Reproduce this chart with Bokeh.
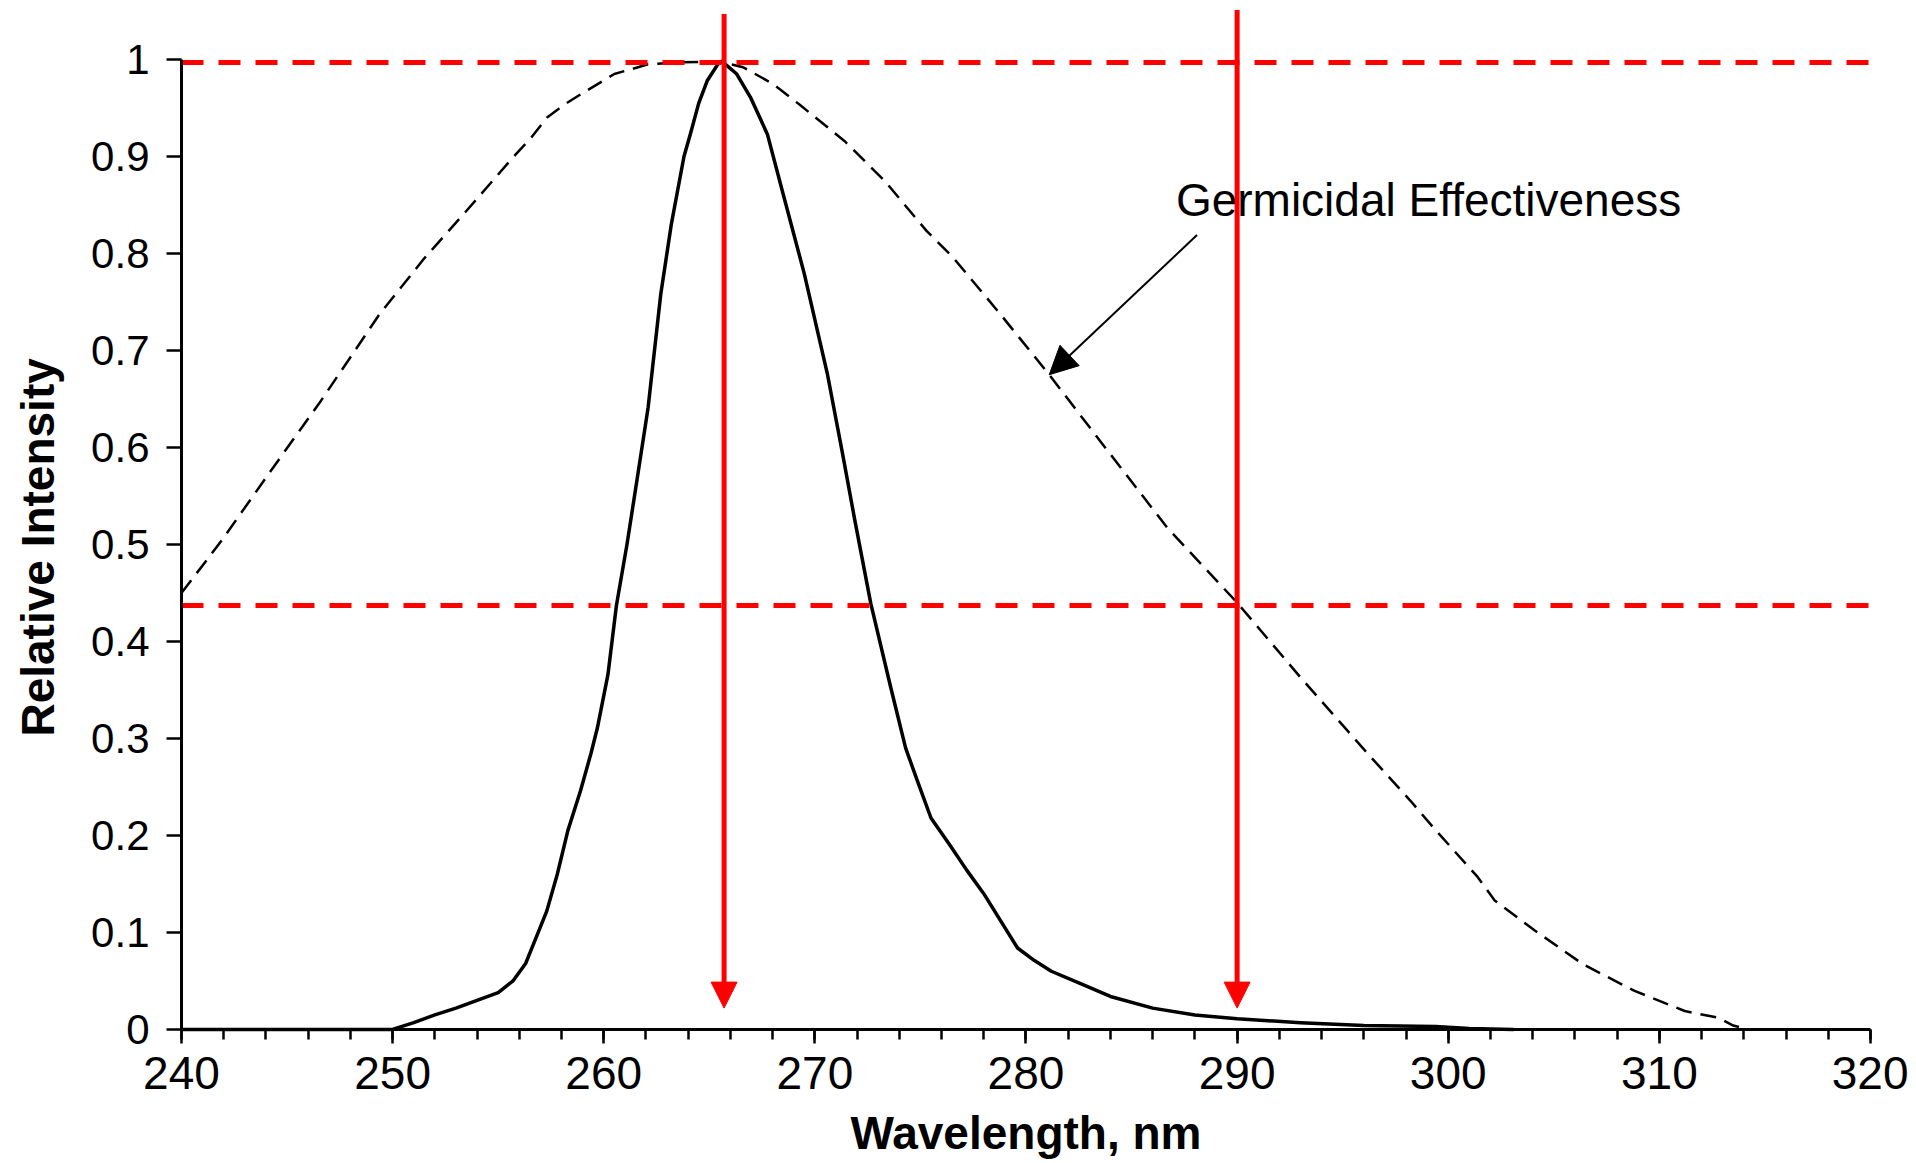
from bokeh.plotting import figure
from bokeh.models import (Range1d, SingleIntervalTicker, FixedTicker, NumeralTickFormatter,
                          Arrow, NormalHead, Label)
from bokeh.embed import file_html
from bokeh.resources import INLINE

# ---------------- data ----------------
# emission spectrum (solid line)
emission_nm = [240, 245, 250, 251, 252, 253, 254, 255, 255.7, 256.3, 256.8, 257.3, 257.8,
               258.3, 258.9, 259.4, 259.7, 260.2, 260.6, 261.1, 261.6, 262.1, 262.7, 263.2,
               263.8, 264.1, 264.5, 264.9, 265.4, 265.6, 266.3, 266.95, 267.75, 268.5, 269.5,
               270.6, 271.3, 271.9, 272.65, 273.6, 274.3, 274.86, 275.5, 276.4, 277.2, 278.0,
               279.6, 280.4, 281.2, 282.5, 284, 286, 288, 290, 293, 296, 299.4, 301, 303.1]
emission_rel = [0, 0, 0, 0.007, 0.015, 0.022, 0.030, 0.038, 0.050, 0.068, 0.095, 0.122, 0.16,
                0.205, 0.246, 0.285, 0.311, 0.366, 0.437, 0.50, 0.57, 0.641, 0.758, 0.83,
                0.90, 0.923, 0.955, 0.978, 0.995, 0.998, 0.985, 0.961, 0.923, 0.861, 0.779,
                0.675, 0.595, 0.524, 0.439, 0.352, 0.29, 0.256, 0.218, 0.19, 0.164, 0.14,
                0.084, 0.071, 0.060, 0.048, 0.034, 0.022, 0.015, 0.011, 0.007, 0.004, 0.003,
                0.001, 0]

# germicidal effectiveness (dashed line)
germ_nm = [240, 241.9, 244.2, 246.6, 249.4, 251.5, 253.5, 255.7, 256.55, 257.3, 258.1, 258.9,
           260.5, 262.1, 263.6, 265.5, 266.6, 268.0, 269.3, 271.4, 273.3, 275.3, 276.5, 278.0,
           278.8, 281.1, 283.5, 286.7, 290.0, 293.0, 296.2, 298.2, 299.3, 301.4, 302.2, 304.1,
           306.4, 308.8, 311.2, 312.8, 313.5, 314.2, 316.5]
germ_rel = [0.450, 0.504, 0.575, 0.648, 0.738, 0.795, 0.844, 0.899, 0.919, 0.940, 0.953, 0.964,
            0.985, 0.995, 0.997, 0.998, 0.992, 0.975, 0.953, 0.916, 0.875, 0.823, 0.797, 0.758,
            0.737, 0.675, 0.607, 0.517, 0.440, 0.363, 0.284, 0.236, 0.208, 0.157, 0.133, 0.102,
            0.067, 0.040, 0.019, 0.012, 0.004, 0, 0]

x_bounds = (240, 320)
y_bounds = (0, 1)
y_ticks = [0, 0.1, 0.2, 0.3, 0.4, 0.5, 0.6, 0.7, 0.8, 0.9, 1]

# red reference markers
ref_levels = [0.997, 0.437]
ref_wavelengths = [265.7, 290.0]
ref_arrow_top = [1.047, 1.051]
ref_arrow_tip = [0.022, 0.022]

# annotation
note_text = "Germicidal Effectiveness"
note_text_pos = (287.1, 0.855)
note_arrow_start = (288.1, 0.819)
note_arrow_end = (281.1, 0.675)

# axis titles (positioned in data space; the frame covers the whole canvas)
x_title = "Wavelength, nm"
x_title_pos = (280.0, -0.1065)
y_title = "Relative Intensity"
y_title_pos = (233.18, 0.497)

FONT = "Liberation Sans"

# the frame fills the whole canvas; axes are pinned at x=240 / y=0
p = figure(width=1908, height=1160,
           x_range=Range1d(231.427, 321.80), y_range=Range1d(-0.1351, 1.0608),
           output_backend="svg", toolbar_location=None,
           min_border=0, min_border_left=0, min_border_right=0,
           min_border_top=0, min_border_bottom=0)
p.outline_line_color = None
p.grid.visible = False
p.background_fill_color = "white"
p.border_fill_color = "white"

# x axis
xa = p.xaxis[0]
xa.fixed_location = 0
xa.bounds = x_bounds
xa.ticker = SingleIntervalTicker(interval=10, num_minor_ticks=5)
xa.axis_line_width = 3
xa.axis_line_color = "black"
xa.major_tick_in = 0
xa.major_tick_out = 14
xa.minor_tick_in = 0
xa.minor_tick_out = 10
xa.major_tick_line_width = 2.5
xa.minor_tick_line_width = 2.5
xa.major_tick_line_color = "black"
xa.minor_tick_line_color = "black"
xa.major_label_text_font = FONT
xa.major_label_text_font_size = "46px"
xa.major_label_text_color = "black"
xa.major_label_standoff = 14

# y axis
ya = p.yaxis[0]
ya.fixed_location = 240
ya.bounds = y_bounds
ya.ticker = FixedTicker(ticks=y_ticks, minor_ticks=[])
ya.formatter = NumeralTickFormatter(format="0.[0]")
ya.axis_line_width = 3
ya.axis_line_color = "black"
ya.major_tick_in = 0
ya.major_tick_out = 15
ya.major_tick_line_width = 2.5
ya.major_tick_line_color = "black"
ya.minor_tick_line_color = None
ya.major_label_text_font = FONT
ya.major_label_text_font_size = "42px"
ya.major_label_text_color = "black"
ya.major_label_standoff = 17

# curves
p.line(germ_nm, germ_rel, line_color="black", line_width=2.5, line_dash="16 9")
p.line(emission_nm, emission_rel, line_color="black", line_width=3.5, line_join="round")

# red dashed reference levels (from x=240 to x=320)
p.segment(x0=[x_bounds[0]] * len(ref_levels), x1=[x_bounds[1]] * len(ref_levels),
          y0=ref_levels, y1=ref_levels, line_color="#ff0000", line_width=5,
          line_dash="22 15")

# axis titles
p.add_layout(Label(x=x_title_pos[0], y=x_title_pos[1], text=x_title,
                   text_align="center", text_baseline="alphabetic", text_font=FONT,
                   text_font_style="bold", text_font_size="46px", text_color="black"))
p.add_layout(Label(x=y_title_pos[0], y=y_title_pos[1], text=y_title, angle=1.5707963,
                   text_align="center", text_baseline="middle", text_font=FONT,
                   text_font_style="bold", text_font_size="46px", text_color="black"))

# annotation
p.add_layout(Label(x=note_text_pos[0], y=note_text_pos[1], text=note_text,
                   text_align="left", text_baseline="alphabetic", text_font=FONT,
                   text_font_size="46px", text_color="black"))
p.add_layout(Arrow(x_start=note_arrow_start[0], y_start=note_arrow_start[1],
                   x_end=note_arrow_end[0], y_end=note_arrow_end[1],
                   line_color="black", line_width=2,
                   end=NormalHead(size=28, fill_color="black", line_color="black", line_width=1)))

# red vertical arrows
for wl, top, tip in zip(ref_wavelengths, ref_arrow_top, ref_arrow_tip):
    p.add_layout(Arrow(x_start=wl, y_start=top, x_end=wl, y_end=tip,
                       line_color="#ff0000", line_width=5,
                       end=NormalHead(size=26, fill_color="#ff0000", line_color="#ff0000",
                                      line_width=1)))

open("out.html", "w").write(file_html(p, INLINE))
